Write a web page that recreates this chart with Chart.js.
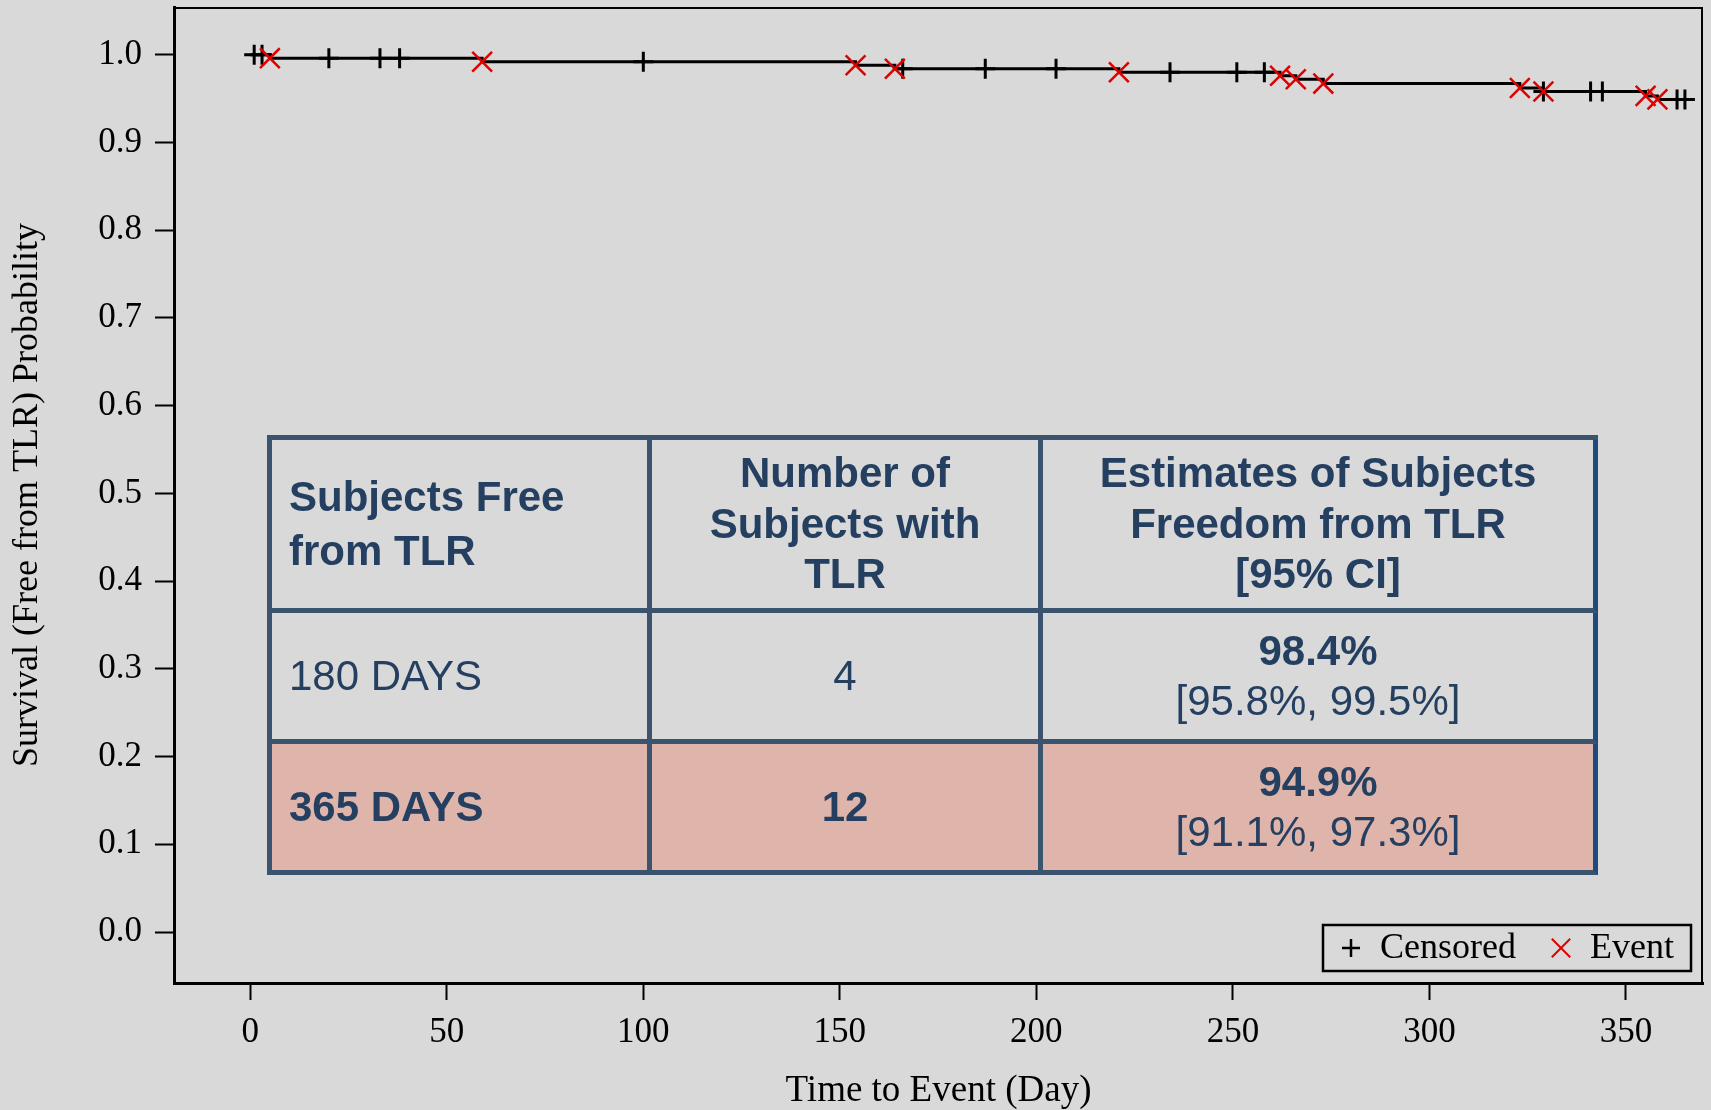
<!DOCTYPE html>
<html>
<head>
<meta charset="utf-8">
<title>Freedom from TLR</title>
<script src="https://cdn.jsdelivr.net/npm/chart.js@4.4.0/dist/chart.umd.min.js"></script>
<style>
  html, body { margin: 0; padding: 0; background: #d9d9d9; }
  #wrap { position: relative; width: 1711px; height: 1110px; overflow: hidden; }
  #km { position: absolute; left: 0; top: 0; }
  #tlr {
    position: absolute; left: 267px; top: 435px;
    display: grid;
    grid-template-columns: 380px 391px 555px;
    grid-template-rows: 173px 131px 131px;
    border-left: 5px solid #3a546e; border-top: 5px solid #3a546e;
    font-family: "Liberation Sans", Arial, sans-serif;
    font-size: 42px; line-height: 1.2; color: #243f60;
  }
  #tlr .cell {
    box-sizing: border-box;
    border-right: 5px solid #3a546e; border-bottom: 5px solid #3a546e;
    display: flex; flex-direction: column; justify-content: center; align-items: center;
    text-align: center; white-space: pre-line;
  }
  #tlr .cell.first { align-items: flex-start; text-align: left; padding-left: 17px; }
  #tlr .cell.last { border-right-color: #1f4a7e; }
  #tlr .head { font-weight: bold; }
  #tlr .head.first { line-height: 1.28; }
  #tlr .hl { background: #dfb5ab; }
  #tlr .b { font-weight: bold; }
</style>
</head>
<body>
<div id="wrap">
  <canvas id="km" width="1711" height="1110"></canvas>
  <div id="tlr"></div>
</div>
<script>
// Kaplan-Meier data
const eventDays = [5, 59, 154, 164, 221, 262, 266, 273, 323, 329, 355, 358];
const survivalAfter = [0.996, 0.992, 0.988, 0.984, 0.980, 0.976, 0.972, 0.967, 0.962, 0.958, 0.953, 0.949];
const censoredDays = [1, 3, 20, 33, 38, 100, 166, 187, 205, 234, 251, 258, 329, 341, 344, 363, 365];
const lastFollowUp = 365;

const xTickValues = [0, 50, 100, 150, 200, 250, 300, 350];
const yTickValues = [0, 0.1, 0.2, 0.3, 0.4, 0.5, 0.6, 0.7, 0.8, 0.9, 1.0];

// inset table
const headerCells = ['Subjects Free\nfrom TLR', 'Number of\nSubjects with\nTLR', 'Estimates of Subjects\nFreedom from TLR\n[95% CI]'];
const timepoints = ['180 DAYS', '365 DAYS'];
const tlrCounts = ['4', '12'];
const freedomEst = ['98.4%', '94.9%'];
const freedomCI = ['[95.8%, 99.5%]', '[91.1%, 97.3%]'];

const SERIF = '"Liberation Serif", "Times New Roman", serif';

function survivalAt(t){
  let s = 1;
  eventDays.forEach((d, i) => { if (d <= t) s = survivalAfter[i]; });
  return s;
}

function buildTable(){
  const el = document.getElementById('tlr');
  headerCells.forEach((txt, i) => {
    const c = document.createElement('div');
    c.className = 'cell head' + (i === 0 ? ' first' : '') + (i === 2 ? ' last' : '');
    c.textContent = txt;
    el.appendChild(c);
  });
  timepoints.forEach((tp, r) => {
    const hl = r === 1;
    const c1 = document.createElement('div');
    c1.className = 'cell first' + (hl ? ' hl b' : '');
    c1.textContent = tp;
    const c2 = document.createElement('div');
    c2.className = 'cell' + (hl ? ' hl b' : '');
    c2.textContent = tlrCounts[r];
    const c3 = document.createElement('div');
    c3.className = 'cell last' + (hl ? ' hl' : '');
    const est = document.createElement('span'); est.className = 'b'; est.textContent = freedomEst[r];
    const ci = document.createElement('span'); ci.textContent = freedomCI[r];
    c3.appendChild(est); c3.appendChild(ci);
    el.appendChild(c1); el.appendChild(c2); el.appendChild(c3);
  });
}

// top/right frame lines
const framePlugin = {
  id: 'frame',
  afterDraw(chart){
    const {ctx, chartArea: a} = chart;
    ctx.save();
    ctx.strokeStyle = '#000';
    ctx.lineWidth = 2;
    ctx.beginPath();
    ctx.moveTo(a.left, a.top + 1); ctx.lineTo(a.right - 1, a.top + 1); ctx.lineTo(a.right - 1, a.bottom);
    ctx.stroke();
    ctx.restore();
  }
};

// boxed legend in the lower right corner
const boxLegend = {
  id: 'boxLegend',
  afterDraw(chart){
    const {ctx, chartArea: a} = chart;
    const cens = chart.data.datasets[1], evt = chart.data.datasets[2];
    const right = a.right - 12, bottom = a.bottom - 12;
    const left = right - 368, top = bottom - 46, mid = (top + bottom) / 2;
    ctx.save();
    ctx.strokeStyle = '#000'; ctx.lineWidth = 2.5;
    ctx.strokeRect(left, top, right - left, bottom - top);
    ctx.font = '36px ' + SERIF;
    ctx.fillStyle = '#000'; ctx.textBaseline = 'middle'; ctx.textAlign = 'left';
    ctx.strokeStyle = cens.borderColor; ctx.lineWidth = 2.5;
    Chart.helpers.drawPoint(ctx, {pointStyle: 'cross', radius: 9, borderWidth: 2.5}, left + 28, mid);
    ctx.fillText(cens.label, left + 57, mid + 1);
    ctx.strokeStyle = evt.borderColor; ctx.lineWidth = 2;
    Chart.helpers.drawPoint(ctx, {pointStyle: 'crossRot', radius: 13, borderWidth: 2}, left + 238, mid);
    ctx.fillText(evt.label, left + 267, mid + 1);
    ctx.restore();
  }
};

function noPad(s){ s.paddingTop = 0; s.paddingBottom = 0; s.paddingLeft = 0; s.paddingRight = 0; }

function renderChart(){
  const curve = [{x: 0, y: 1}]
    .concat(eventDays.map((d, i) => ({x: d, y: survivalAfter[i]})))
    .concat([{x: lastFollowUp, y: survivalAt(lastFollowUp)}]);
  const censPts = censoredDays.map(d => ({x: d, y: survivalAt(d)}));
  const evtPts = eventDays.map((d, i) => ({x: d, y: survivalAfter[i]}));

  new Chart(document.getElementById('km').getContext('2d'), {
    type: 'line',
    data: {
      datasets: [
        { label: 'Survival', data: curve, stepped: 'before', borderColor: '#000', borderWidth: 3,
          pointRadius: 0, fill: false, order: 3, clip: false },
        { label: 'Censored', data: censPts, showLine: false, pointStyle: 'cross', pointRadius: 10,
          borderColor: '#000', backgroundColor: '#000', pointBorderWidth: 3, order: 2, clip: false },
        { label: 'Event', data: evtPts, showLine: false, pointStyle: 'crossRot', pointRadius: 14,
          borderColor: '#e00000', backgroundColor: '#e00000', pointBorderWidth: 2.5, order: 1, clip: false }
      ]
    },
    options: {
      responsive: false, animation: false, devicePixelRatio: 1,
      layout: { autoPadding: false, padding: { top: 7, right: 8, left: 0, bottom: 0 } },
      plugins: { legend: { display: false }, tooltip: { enabled: false } },
      scales: {
        x: {
          type: 'linear', min: -19.4, max: 369.6,
          afterBuildTicks: s => { s.ticks = xTickValues.map(v => ({value: v})); },
          afterFit: s => { s.height = 127; noPad(s); },
          ticks: { autoSkip: false, maxRotation: 0, color: '#000', padding: 12, font: { family: SERIF, size: 35 } },
          grid: { drawOnChartArea: false, drawTicks: true, tickLength: 17, tickWidth: 2, tickColor: '#000' },
          border: { display: true, color: '#000', width: 3 },
          title: { display: true, text: 'Time to Event (Day)', color: '#000',
                   font: { family: SERIF, size: 37, lineHeight: 1 }, padding: { top: 0, bottom: 0 } }
        },
        y: {
          type: 'linear', min: -0.0581, max: 1.0543,
          afterBuildTicks: s => { s.ticks = yTickValues.map(v => ({value: v})); },
          afterFit: s => { s.width = 174; noPad(s); },
          ticks: { color: '#000', padding: 13, font: { family: SERIF, size: 35 }, callback: v => v.toFixed(1) },
          grid: { drawOnChartArea: false, drawTicks: true, tickLength: 19, tickWidth: 2, tickColor: '#000' },
          border: { display: true, color: '#000', width: 3 },
          title: { display: true, text: 'Survival (Free from TLR) Probability', color: '#000',
                   font: { family: SERIF, size: 36, lineHeight: 1 }, padding: { top: 10, bottom: 0 } }
        }
      }
    },
    plugins: [framePlugin, boxLegend]
  });
}

buildTable();
renderChart();
</script>
</body>
</html>
